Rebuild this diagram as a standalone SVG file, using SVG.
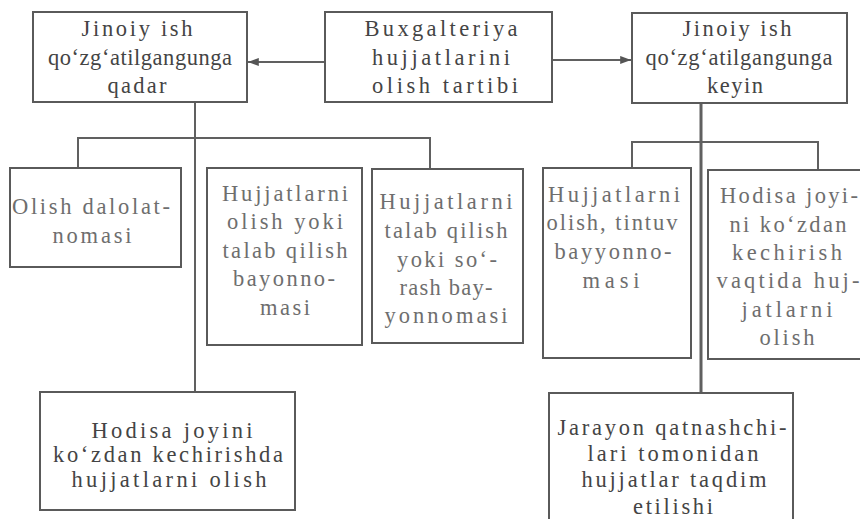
<svg xmlns="http://www.w3.org/2000/svg" width="860" height="519" viewBox="0 0 860 519">
<defs>
<style>
.box{fill:#ffffff;stroke:#5a5a5a;stroke-width:2}
.lt{fill:none;stroke:#606060;stroke-width:2}
.t{font-family:"Liberation Serif","Times New Roman",serif;font-size:22.5px;fill:#444444;text-anchor:middle}
.g{fill:#6e6e6e}
</style>
<marker id="ah" viewBox="0 0 12 10" refX="12" refY="5" markerWidth="13" markerHeight="9" orient="auto" markerUnits="userSpaceOnUse">
<path d="M0,0.5 L12,5 L0,9.5 Z" fill="#555"/>
</marker>
</defs>
<rect width="860" height="519" fill="#ffffff"/>
<g id="connectors">
<line class="lt" x1="325" y1="62" x2="248" y2="62" marker-end="url(#ah)"/>
<line class="lt" x1="552" y1="60" x2="631" y2="60" marker-end="url(#ah)"/>
<line class="lt" x1="195" y1="103" x2="195" y2="392"/>
<polyline class="lt" points="78,168 78,138 430,138 430,168"/>
<line class="lt" x1="701" y1="103" x2="701" y2="393" style="stroke-width:3"/>
<polyline class="lt" points="632,168 632,142 818,142 818,169"/>
</g>
<g id="n_center">
<rect class="box" x="325" y="12" width="227" height="90"/>
<text class="t" x="441" y="36" textLength="153" lengthAdjust="spacing">Buxgalteriya</text>
<text class="t" x="441" y="65" textLength="138" lengthAdjust="spacing">hujjatlarini</text>
<text class="t" x="445" y="93" textLength="146" lengthAdjust="spacing">olish tartibi</text>
</g>
<g id="n_before">
<rect class="box" x="33" y="12" width="214" height="90"/>
<text class="t" x="137" y="36" textLength="111" lengthAdjust="spacing">Jinoiy ish</text>
<text class="t" x="140" y="65" textLength="184" lengthAdjust="spacing">qo‘zg‘atilgangunga</text>
<text class="t" x="137" y="93" textLength="59" lengthAdjust="spacing">qadar</text>
</g>
<g id="n_after">
<rect class="box" x="632" y="13" width="215" height="90"/>
<text class="t" x="737" y="36" textLength="109" lengthAdjust="spacing">Jinoiy ish</text>
<text class="t" x="739" y="65" textLength="187" lengthAdjust="spacing">qo‘zg‘atilgangunga</text>
<text class="t" x="735" y="93" textLength="56" lengthAdjust="spacing">keyin</text>
</g>
<g id="n_dalolat">
<rect class="box" x="10" y="168" width="171" height="99"/>
<text class="t g" x="91" y="214" textLength="158" lengthAdjust="spacing">Olish dalolat-</text>
<text class="t g" x="92" y="243" textLength="79" lengthAdjust="spacing">nomasi</text>
</g>
<g id="n_olish_yoki">
<rect class="box" x="207" y="168" width="155" height="177"/>
<text class="t g" x="285" y="201" textLength="126" lengthAdjust="spacing">Hujjatlarni</text>
<text class="t g" x="285" y="229" textLength="116" lengthAdjust="spacing">olish yoki</text>
<text class="t g" x="285" y="258" textLength="125" lengthAdjust="spacing">talab qilish</text>
<text class="t g" x="284" y="286" textLength="102" lengthAdjust="spacing">bayonno-</text>
<text class="t g" x="285" y="315" textLength="50" lengthAdjust="spacing">masi</text>
</g>
<g id="n_talab">
<rect class="box" x="372" y="169" width="151" height="174"/>
<text class="t g" x="446" y="209" textLength="133" lengthAdjust="spacing">Hujjatlarni</text>
<text class="t g" x="446" y="238" textLength="123" lengthAdjust="spacing">talab qilish</text>
<text class="t g" x="447" y="267" textLength="100" lengthAdjust="spacing">yoki so‘-</text>
<text class="t g" x="446" y="295" textLength="93" lengthAdjust="spacing">rash bay-</text>
<text class="t g" x="446" y="323" textLength="123" lengthAdjust="spacing">yonnomasi</text>
</g>
<g id="n_tintuv">
<rect class="box" x="543" y="168" width="148" height="190"/>
<text class="t g" x="614" y="202" textLength="132" lengthAdjust="spacing">Hujjatlarni</text>
<text class="t g" x="612" y="230" textLength="131" lengthAdjust="spacing">olish, tintuv</text>
<text class="t g" x="613" y="259" textLength="117" lengthAdjust="spacing">bayyonno-</text>
<text class="t g" x="611" y="288" textLength="57" lengthAdjust="spacing">masi</text>
</g>
<g id="n_hodisa_r">
<rect class="box" x="708" y="170" width="154" height="189"/>
<text class="t g" x="789" y="203" textLength="138" lengthAdjust="spacing">Hodisa joyi-</text>
<text class="t g" x="788" y="232" textLength="117" lengthAdjust="spacing">ni ko‘zdan</text>
<text class="t g" x="787" y="260" textLength="110" lengthAdjust="spacing">kechirish</text>
<text class="t g" x="788" y="288" textLength="143" lengthAdjust="spacing">vaqtida huj-</text>
<text class="t g" x="787" y="317" textLength="91" lengthAdjust="spacing">jatlarni</text>
<text class="t g" x="787" y="345" textLength="55" lengthAdjust="spacing">olish</text>
</g>
<g id="n_hodisa_l">
<rect class="box" x="40" y="392" width="255" height="118"/>
<text class="t" x="172" y="438" textLength="161" lengthAdjust="spacing">Hodisa joyini</text>
<text class="t" x="168" y="462" textLength="230" lengthAdjust="spacing">ko‘zdan kechirishda</text>
<text class="t" x="169" y="487" textLength="195" lengthAdjust="spacing">hujjatlarni olish</text>
</g>
<g id="n_jarayon">
<rect class="box" x="549" y="393" width="244" height="130"/>
<text class="t" x="672" y="435" textLength="229" lengthAdjust="spacing">Jarayon qatnashchi-</text>
<text class="t" x="673" y="461" textLength="171" lengthAdjust="spacing">lari tomonidan</text>
<text class="t" x="674" y="487" textLength="185" lengthAdjust="spacing">hujjatlar taqdim</text>
<text class="t" x="673" y="514" textLength="80" lengthAdjust="spacing">etilishi</text>
</g>
</svg>
